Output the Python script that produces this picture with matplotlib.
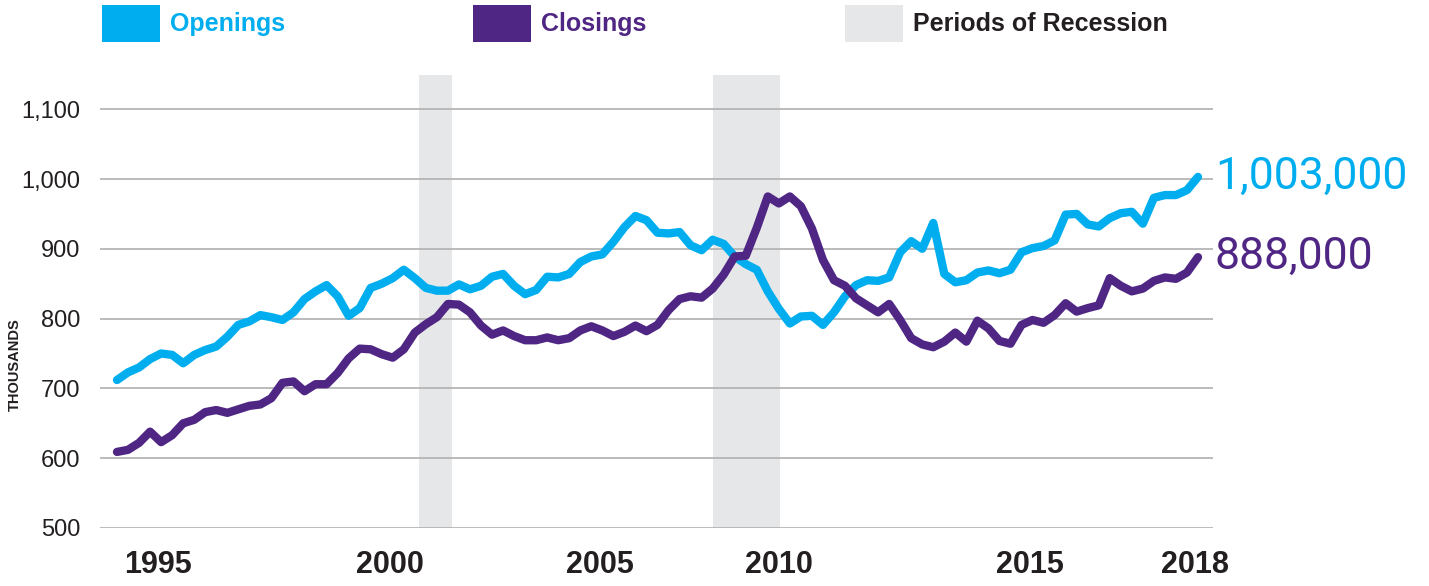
import matplotlib
matplotlib.use("Agg")
import matplotlib.pyplot as plt
from matplotlib.patches import Rectangle

# quarterly establishment openings / closings, thousands
openings = [712, 723, 730, 742, 750, 748, 736, 748, 755, 760,
            774, 791, 796, 805, 802, 798, 809, 828, 839, 848,
            832, 804, 815, 844, 850, 858, 870, 858, 844, 840,
            840, 849, 842, 847, 860, 864, 847, 835, 841, 860,
            859, 864, 881, 889, 892, 910, 931, 947, 941, 923,
            922, 924, 905, 898, 913, 907, 889, 878, 870, 839,
            814, 793, 803, 804, 791, 809, 832, 848, 855, 854,
            859, 895, 911, 900, 937, 864, 852, 855, 866, 869,
            865, 870, 895, 901, 904, 912, 949, 950, 935, 932,
            944, 951, 953, 936, 973, 977, 977, 984, 1003]
closings = [609, 612, 622, 638, 623, 633, 650, 655, 666, 669,
            665, 670, 675, 677, 686, 708, 710, 696, 706, 706,
            722, 743, 757, 756, 749, 744, 756, 780, 792, 802,
            821, 820, 809, 790, 777, 783, 775, 769, 769, 773,
            769, 772, 783, 789, 783, 775, 781, 790, 782, 791,
            812, 828, 832, 830, 843, 863, 889, 890, 930, 975,
            965, 975, 961, 929, 884, 855, 847, 829, 819, 809,
            821, 798, 772, 763, 759, 767, 780, 767, 797, 786,
            768, 764, 791, 798, 794, 805, 822, 810, 815, 819,
            858, 847, 839, 843, 854, 859, 857, 866, 888]

year_labels = ["1995", "2000", "2005", "2010", "2015", "2018"]
year_pos = [3.7, 24.75, 43.8, 60.0, 82.8, 97.7]   # quarter index where the label sits
recessions = [(27.4, 30.4), (54.0, 60.1)]          # quarter index spans
end_labels = ["1,003,000", "888,000"]

CYAN = "#00aeef"
PURPLE = "#4f2683"
SHADE = "#e6e7e8"
DARK = "#231f20"

fig = plt.figure(figsize=(14.29, 5.86), dpi=100)
ax = fig.add_axes([100 / 1429, 1 - 528 / 586, 1113 / 1429, 453 / 586])

for a, b in recessions:
    ax.axvspan(a, b, color=SHADE, lw=0, zorder=0)

x = list(range(len(openings)))
ax.plot(x, openings, color=CYAN, lw=6, solid_joinstyle="round",
        solid_capstyle="round", zorder=3)
ax.plot(x, closings, color=PURPLE, lw=6, solid_joinstyle="round",
        solid_capstyle="round", zorder=3)

ax.set_xlim(-1.54, 99.36)
ax.set_ylim(500, 1149)
ax.set_yticks([500, 600, 700, 800, 900, 1000, 1100])
ax.set_yticklabels(["500", "600", "700", "800", "900", "1,000", "1,100"],
                   fontsize=17, color=DARK, family="Liberation Sans")
ax.yaxis.grid(True, color="#b5b5b5", lw=1.3, zorder=1)
ax.set_axisbelow(False)
for gl in ax.get_ygridlines():
    gl.set_zorder(1)
ax.set_xticks(year_pos)
ax.set_xticklabels(year_labels, fontsize=22, fontweight="bold", color=DARK,
                   family="Liberation Sans")
ax.tick_params(length=0)
ax.tick_params(axis="y", pad=14)
ax.tick_params(axis="x", pad=16)
for s in ax.spines.values():
    s.set_visible(False)

ax.annotate(end_labels[0], xy=(x[-1], openings[-1]), xytext=(17, 0),
            textcoords="offset pixels", va="center", ha="left",
            fontsize=32, color=CYAN, family="Roboto", annotation_clip=False)
ax.annotate(end_labels[1], xy=(x[-1], closings[-1]), xytext=(17, 0),
            textcoords="offset pixels", va="center", ha="left",
            fontsize=32, color=PURPLE, family="Roboto", annotation_clip=False)

fig.text(15 / 1429, 1 - 365 / 586, "THOUSANDS", rotation=90, ha="center",
         va="center", fontsize=10.5, fontweight="bold", color=DARK,
         family="Liberation Sans")

# legend row
legend = [("Openings", CYAN, CYAN, 102), ("Closings", PURPLE, PURPLE, 473),
          ("Periods of Recession", SHADE, DARK, 845)]
for name, col, tcol, px in legend:
    fig.patches.append(Rectangle((px / 1429, 1 - 42 / 586), 58 / 1429, 37 / 586,
                                 transform=fig.transFigure, color=col, lw=0))
    fig.text((px + 68) / 1429, 1 - 24 / 586, name, ha="left", va="center",
             fontsize=18, fontweight="bold", color=tcol, family="Liberation Sans")

fig.savefig("out.png", dpi=100)
